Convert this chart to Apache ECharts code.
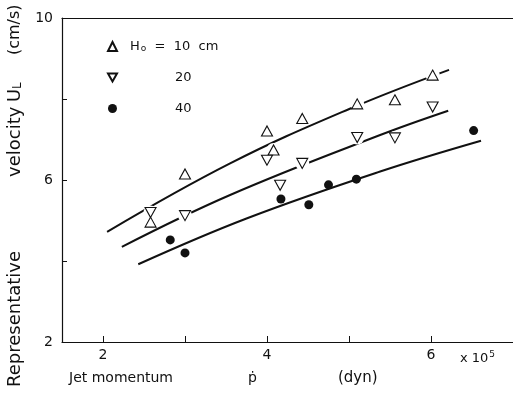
<!DOCTYPE html>
<html>
<head>
<meta charset="utf-8">
<script src="https://cdn.jsdelivr.net/npm/echarts@6/dist/echarts.min.js"></script>
<style>
  html, body { margin: 0; padding: 0; background: #fff; }
  #chart { width: 513px; height: 396px; }
</style>
</head>
<body>
<div id="chart"></div>
<script>
// Measured points: jet momentum (x 10^5 dyn) vs representative velocity (cm/s)
var momentum10 = [2.58, 3.0, 4.0, 4.08, 4.43, 5.1, 5.56, 6.02];
var velocity10 = [4.96, 6.15, 7.21, 6.74, 7.52, 7.88, 7.98, 8.59];

var momentum20 = [2.58, 3.0, 4.0, 4.16, 4.43, 5.1, 5.56, 6.02];
var velocity20 = [5.2, 5.12, 6.49, 5.87, 6.41, 7.05, 7.04, 7.8];

var momentum40 = [2.82, 3.0, 4.17, 4.51, 4.75, 5.09, 6.52];
var velocity40 = [4.52, 4.2, 5.53, 5.39, 5.88, 6.02, 7.22];

// Fitted curves, read as a few points along each line
var fit10P = [2.05, 3.55, 5.01, 6.22];
var fit10U = [4.72, 6.41, 7.76, 8.72];
var fit20P = [2.23, 3.55, 5.38, 6.21];
var fit20U = [4.35, 5.63, 7.11, 7.71];
var fit40P = [2.43, 3.75, 5.38, 6.61];
var fit40U = [3.92, 5.05, 6.21, 6.97];

// Axis ticks and labels
var xTicks = [2, 3, 4, 5, 6];
var xTickLabels = [2, 4, 6];
var yTicks = [2, 4, 6, 8, 10];
var yTickLabels = [2, 6, 10];

var FONT = 'DejaVu Sans';
var INK = '#111';

function pairs(xs, ys) {
  return xs.map(function (x, i) { return [x, ys[i]]; });
}

// rich-text token helper: fixed-width, left-aligned word slot
function slot(size, width, extra) {
  var s = { fontFamily: FONT, fontSize: size, color: INK, align: 'left' };
  if (width) s.width = width;
  if (extra) for (var k in extra) s[k] = extra[k];
  return s;
}

var hollow = { color: '#fff', borderColor: INK, borderWidth: 1.1, opacity: 1 };

function fitSeries(name, xs, ys) {
  return {
    name: name,
    type: 'line',
    data: pairs(xs, ys),
    smooth: 0.4,
    showSymbol: false,
    symbol: 'none',
    z: 2,
    silent: true,
    lineStyle: { color: INK, width: 2 }
  };
}

// white clearance behind the open triangles, so the fitted lines break around them
function clearance(name, xs, ys) {
  return {
    name: name,
    type: 'scatter',
    data: pairs(xs, ys),
    symbol: 'circle',
    symbolSize: 14,
    silent: true,
    itemStyle: { color: '#fff', opacity: 1 },
    z: 3
  };
}

var chart = echarts.init(document.getElementById('chart'), null, { renderer: 'canvas' });

chart.setOption({
  animation: false,
  backgroundColor: '#fff',
  grid: { left: 62, right: 0, top: 18, bottom: 54, containLabel: false, outerBoundsMode: 'none' },
  legend: {
    orient: 'vertical',
    left: 102,
    top: 33,
    itemWidth: 9,
    itemHeight: 9,
    itemGap: 14,
    data: [
      { name: '10', icon: 'triangle' },
      { name: '20', icon: 'path://M0,0L10,0L5,9Z' },
      { name: '40', icon: 'circle' }
    ],
    formatter: function (name) {
      if (name === '10') {
        return '{h|H}{o|o}{t|  =  10  cm}';
      }
      return '{n|' + name + '}';
    },
    textStyle: {
      fontFamily: FONT,
      fontSize: 13,
      color: INK,
      lineHeight: 17,
      rich: {
        h: slot(13, 0, { lineHeight: 17, padding: [0, 0, 0, 8] }),
        o: slot(9, 0, { lineHeight: 17, padding: [4, 0, 0, 1] }),
        t: slot(13, 0, { lineHeight: 17 }),
        n: slot(13, 0, { lineHeight: 17, padding: [0, 0, 0, 53] })
      }
    }
  },
  title: {
    text: 'x 10{s|5}',
    left: 455,
    top: 345,
    textStyle: {
      fontFamily: FONT,
      fontSize: 13,
      fontWeight: 'normal',
      color: INK,
      rich: {
        s: slot(9, 0, { padding: [0, 0, 8, 1] })
      }
    }
  },
  xAxis: [
    {
      type: 'value',
      min: 1.5,
      max: 7,
      position: 'bottom',
      name: '{a|Jet momentum}{b|\u1E57}{c|(dyn)}',
      nameLocation: 'middle',
      nameGap: 29,
      nameTextStyle: {
        fontFamily: FONT,
        fontSize: 14,
        color: INK,
        padding: [0, 106, 0, 0],
        rich: {
          a: slot(14, 179),
          b: slot(14, 90),
          c: slot(15, 62)
        }
      },
      axisLine: { show: true, lineStyle: { color: INK, width: 1.2 } },
      axisTick: {
        show: true,
        inside: true,
        length: 6,
        customValues: xTicks,
        lineStyle: { color: INK, width: 1 }
      },
      axisLabel: {
        customValues: xTickLabels,
        margin: 6,
        fontFamily: FONT,
        fontSize: 14,
        color: INK
      },
      splitLine: { show: false }
    },
    {
      type: 'value',
      min: 1.5,
      max: 7,
      position: 'top',
      axisLine: { show: true, lineStyle: { color: INK, width: 1.2 } },
      axisTick: { show: false },
      axisLabel: { show: false },
      splitLine: { show: false }
    }
  ],
  yAxis: {
    type: 'value',
    min: 2,
    max: 10,
    name: '{a|Representative}{b|velocity}{u|U}{l|L}{c|(cm/s)}',
    nameLocation: 'middle',
    nameGap: 29,
    nameTextStyle: {
      fontFamily: FONT,
      fontSize: 18,
      color: INK,
      padding: [0, 27, 0, 0],
      rich: {
        a: slot(18, 210),
        b: slot(18, 75),
        u: slot(18, 13),
        l: slot(12, 34, { padding: [5, 0, 0, 0] }),
        c: slot(16, 55)
      }
    },
    axisLine: { show: true, lineStyle: { color: INK, width: 1.2 } },
    axisTick: {
      show: true,
      inside: true,
      length: 5,
      customValues: yTicks,
      lineStyle: { color: INK, width: 1 }
    },
    axisLabel: {
      customValues: yTickLabels,
      margin: 9,
      fontFamily: FONT,
      fontSize: 14,
      color: INK
    },
    splitLine: { show: false }
  },
  series: [
    fitSeries('fit10', fit10P, fit10U),
    fitSeries('fit20', fit20P, fit20U),
    fitSeries('fit40', fit40P, fit40U),
    clearance('gap10', momentum10, velocity10),
    clearance('gap20', momentum20, velocity20),
    {
      name: '10',
      type: 'scatter',
      data: pairs(momentum10, velocity10),
      symbol: 'triangle',
      symbolSize: [11, 10],
      itemStyle: hollow,
      z: 5
    },
    {
      name: '20',
      type: 'scatter',
      data: pairs(momentum20, velocity20),
      symbol: 'triangle',
      symbolRotate: 180,
      symbolSize: [11, 10],
      itemStyle: hollow,
      z: 5
    },
    {
      name: '40',
      type: 'scatter',
      data: pairs(momentum40, velocity40),
      symbol: 'circle',
      symbolSize: 9,
      itemStyle: { color: INK, borderColor: INK, borderWidth: 0, opacity: 1 },
      z: 5
    }
  ]
});
</script>
</body>
</html>
